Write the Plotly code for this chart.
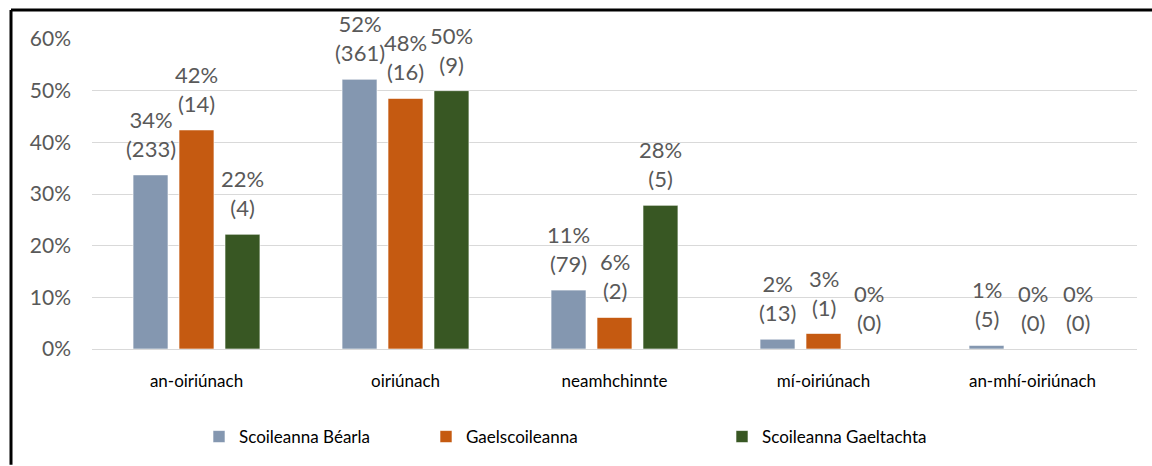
import plotly.graph_objects as go

categories = ["an-oiriúnach", "oiriúnach", "neamhchinnte", "mí-oiriúnach", "an-mhí-oiriúnach"]
series_names = ["Scoileanna Béarla", "Gaelscoileanna", "Scoileanna Gaeltachta"]
pct_bearla = [34, 52, 11, 2, 1]
pct_gael = [42, 48, 6, 3, 0]
pct_gaeltacht = [22, 50, 28, 0, 0]
# bar heights (slightly finer than rounded labels)
val_bearla = [33.7, 52.2, 11.4, 1.9, 0.7]
val_gael = [42.4, 48.5, 6.1, 3.0, 0.0]
val_gaeltacht = [22.2, 50.0, 27.8, 0.0, 0.0]
cnt_bearla = [233, 361, 79, 13, 5]
cnt_gael = [14, 16, 2, 1, 0]
cnt_gaeltacht = [4, 9, 5, 0, 0]
y_ticks = [0, 10, 20, 30, 40, 50, 60]
y_tick_labels = ["0%", "10%", "20%", "30%", "40%", "50%", "60%"]

colors = ["#8497B0", "#C55A11", "#385723"]
OFF = 0  # page body margin removed via post_script
W, H = 1152, 466
ML, MT = 92, 39
PW, PH = 1045, 311
MR = W - ML - PW
MB = H - MT - PH
BARGAP = 0.34
BARGROUPGAP = 0.24
GREY = "#595959"
FONT = "Lato"


def px_x(px):
    return (px - OFF - ML) / PW


def px_y(py):
    return (MT + PH - (py - OFF)) / PH


vals = [val_bearla, val_gael, val_gaeltacht]
pcts = [pct_bearla, pct_gael, pct_gaeltacht]
cnts = [cnt_bearla, cnt_gael, cnt_gaeltacht]

fig = go.Figure()
legends = ["legend", "legend2", "legend3"]
for i in range(3):
    fig.add_trace(go.Bar(
        x=categories, y=vals[i], name=series_names[i],
        marker=dict(color=colors[i], line=dict(color="rgba(255,255,255,0.6)", width=1)),
        legend=legends[i],
    ))

cat_px = PW / len(categories)
slot_px = cat_px * (1 - BARGAP) / 3

annotations = []
for i in range(3):
    for j, c in enumerate(categories):
        annotations.append(dict(
            x=c, y=vals[i][j], xref="x", yref="y",
            text=f"{pcts[i][j]}%<br>({cnts[i][j]})",
            showarrow=False, yanchor="bottom", xanchor="center",
            xshift=(i - 1) * slot_px, yshift=11,
            font=dict(family=FONT, size=22, color=GREY),
        ))

leg_common = dict(orientation="h", xanchor="left", yanchor="middle", itemwidth=30,
                  font=dict(family=FONT, size=17, color="black"), bgcolor="rgba(0,0,0,0)")
leg_y = px_y(437)

fig.update_layout(
    width=W, height=H,
    margin=dict(l=ML, r=MR, t=MT, b=MB),
    paper_bgcolor="white", plot_bgcolor="white",
    barmode="group", bargap=BARGAP, bargroupgap=BARGROUPGAP,
    annotations=annotations,
    font=dict(family=FONT),
    showlegend=True,
    legend=dict(x=px_x(199), y=leg_y, **leg_common),
    legend2=dict(x=px_x(426), y=leg_y, **leg_common),
    legend3=dict(x=px_x(722), y=leg_y, **leg_common),
    xaxis=dict(showgrid=False, showline=False, ticks="", ticklabelstandoff=20,
               tickfont=dict(family=FONT, size=17, color="black")),
    yaxis=dict(range=[0, 60], tickvals=y_ticks, ticktext=y_tick_labels,
               showgrid=True, gridcolor="#D9D9D9", gridwidth=1,
               zeroline=True, zerolinecolor="#D9D9D9", zerolinewidth=1,
               showline=False, ticks="", ticklabelstandoff=20,
               tickfont=dict(family=FONT, size=21, color=GREY)),
)

x_left = px_x(11)
y_top = px_y(10)
fig.add_shape(type="line", xref="paper", yref="paper", x0=x_left, x1=px_x(W),
              y0=y_top, y1=y_top, line=dict(color="black", width=3))
fig.add_shape(type="line", xref="paper", yref="paper", x0=x_left, x1=x_left,
              y0=y_top, y1=px_y(H), line=dict(color="black", width=3))

fig.write_html(
    "out.html",
    config={"displayModeBar": False},
    post_script=(
        "document.documentElement.style.overflow='hidden';"
        "document.body.style.margin='0';document.body.style.overflow='hidden';"
    ),
)
